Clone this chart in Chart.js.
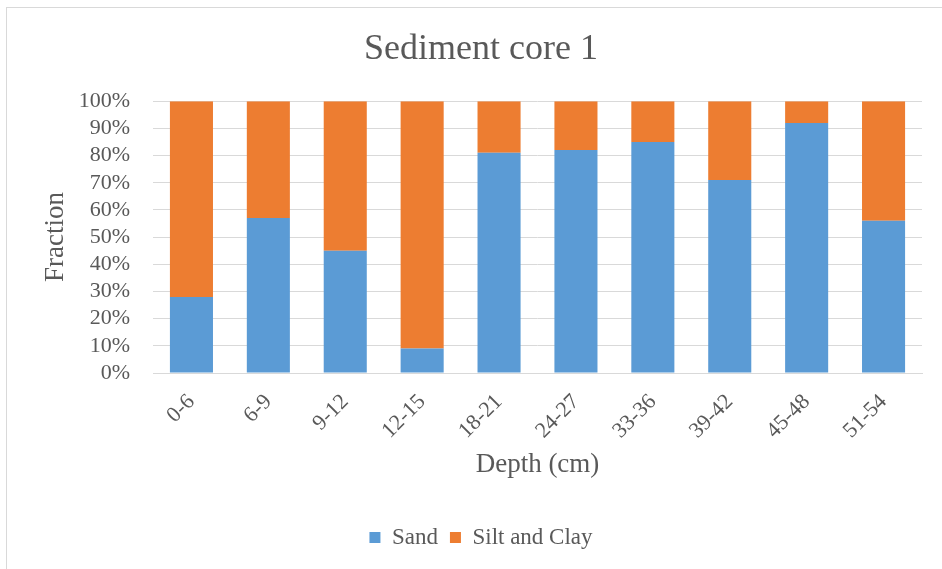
<!DOCTYPE html>
<html>
<head>
<meta charset="utf-8">
<title>Sediment core 1</title>
<script src="https://cdn.jsdelivr.net/npm/chart.js@4"></script>
<style>
  html, body { margin: 0; padding: 0; background: #fff; overflow: hidden; }
  #frame {
    position: absolute; left: 6px; top: 7px; width: 960px; height: 600px;
    border: 1px solid #d9d9d9; box-sizing: border-box;
  }
  #wrap { position: absolute; left: 0; top: 0; width: 942px; height: 569px; }
</style>
</head>
<body>
<div id="frame"></div>
<div id="wrap"><canvas id="coreChart"></canvas></div>
<script>
// depth intervals of core 1 and grain-size fractions (%)
const depths = ['0-6', '6-9', '9-12', '12-15', '18-21', '24-27', '33-36', '39-42', '45-48', '51-54'];
const sand = [28, 57, 45, 9, 81, 82, 85, 71, 92, 56];
const siltClay = [72, 43, 55, 91, 19, 18, 15, 29, 8, 44];
const yTicks = [0, 10, 20, 30, 40, 50, 60, 70, 80, 90, 100];

const serif = '"Liberation Serif", "Times New Roman", serif';
const grey = '#595959';
const gridGrey = '#d9d9d9';

new Chart(document.getElementById('coreChart'), {
    type: 'bar',
    data: {
        labels: depths,
        datasets: [
            { label: 'Sand', data: sand, backgroundColor: '#5b9bd5' },
            { label: 'Silt and Clay', data: siltClay, backgroundColor: '#ed7d31' }
        ]
    },
    options: {
        responsive: true,
        maintainAspectRatio: false,
        animation: false,
        categoryPercentage: 1,
        barPercentage: 0.56,
        layout: { padding: { left: 40, right: 20, top: 0, bottom: 10 } },
        plugins: {
            title: {
                display: true,
                text: 'Sediment core 1',
                color: grey,
                font: { family: serif, size: 36, weight: 'normal' },
                padding: { top: 28, bottom: 30 }
            },
            legend: {
                position: 'bottom',
                labels: {
                    color: grey,
                    font: { family: serif, size: 23 },
                    boxWidth: 11,
                    boxHeight: 11,
                    padding: 12
                }
            },
            tooltip: { enabled: false }
        },
        scales: {
            x: {
                stacked: true,
                afterFit: scale => { scale.height = 141; },
                grid: { display: false },
                border: { color: gridGrey },
                ticks: {
                    color: grey,
                    font: { family: serif, size: 22 },
                    minRotation: 45,
                    maxRotation: 45,
                    padding: 8
                },
                title: {
                    display: true,
                    text: 'Depth (cm)',
                    color: grey,
                    font: { family: serif, size: 27 },
                    padding: { top: 4, bottom: 33 }
                }
            },
            y: {
                stacked: true,
                min: 0,
                max: 100,
                afterFit: scale => { scale.width = 113; },
                afterBuildTicks: scale => { scale.ticks = yTicks.map(v => ({ value: v })); },
                grid: { color: gridGrey, drawTicks: false },
                border: { display: false },
                ticks: {
                    autoSkip: false,
                    color: grey,
                    font: { family: serif, size: 22 },
                    padding: 23,
                    callback: v => v + '%'
                },
                title: {
                    display: true,
                    text: 'Fraction',
                    color: grey,
                    font: { family: serif, size: 27 },
                    padding: { top: 0, bottom: 0 }
                }
            }
        }
    }
});
</script>
</body>
</html>
